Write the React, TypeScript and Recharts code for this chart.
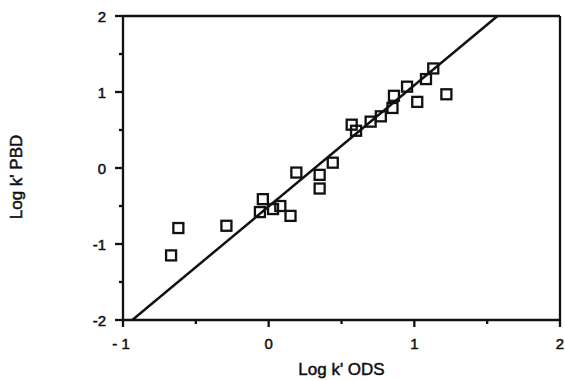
import { ScatterChart, Scatter, XAxis, YAxis, ReferenceLine } from 'recharts'

// log k' values
const odsLogK = [-0.67, -0.62, -0.29, -0.04, -0.06, 0.03, 0.08, 0.15, 0.19, 0.35, 0.35, 0.44, 0.57, 0.6, 0.7, 0.77, 0.86, 0.85, 0.95, 1.02, 1.08, 1.13, 1.22]
const pbdLogK = [-1.15, -0.79, -0.76, -0.41, -0.58, -0.54, -0.5, -0.63, -0.06, -0.27, -0.09, 0.07, 0.57, 0.49, 0.61, 0.68, 0.95, 0.79, 1.07, 0.87, 1.17, 1.31, 0.97]

// regression line end points
const fitX = [-0.936, 1.571]
const fitY = [-2, 2]

const xTicks = [-1, -0.5, 0, 0.5, 1, 1.5, 2]
const yTicks = [-2, -1.5, -1, -0.5, 0, 0.5, 1, 1.5, 2]

const FONT = '"Liberation Sans", Arial, sans-serif'
const INK = '#111'

const points = odsLogK.map((x, i) => ({ x, y: pbdLogK[i] }))
const fitLine = fitX.map((x, i) => ({ x, y: fitY[i] }))

function Square({ cx, cy }: { cx?: number; cy?: number }) {
  if (cx == null || cy == null) return null
  return <rect x={cx - 5} y={cy - 5} width={10} height={10} fill="none" stroke={INK} strokeWidth={2.3} />
}

function XTick({ x, y, payload }: any) {
  const v = payload.value as number
  const major = Number.isInteger(v)
  return (
    <g>
      <line x1={x} x2={x} y1={y} y2={y + (major ? 7 : 4)} stroke={INK} strokeWidth={2.3} />
      {major && (
        <text x={v < 0 ? x - 2 : x} y={y + 29} textAnchor="middle" fontFamily={FONT} fontSize={15} fill={INK} stroke={INK} strokeWidth={0.5}>
          {v < 0 ? '- ' + Math.abs(v) : v}
        </text>
      )}
    </g>
  )
}

function YTick({ x, y, payload }: any) {
  const v = payload.value as number
  const major = Number.isInteger(v)
  return (
    <g>
      <line x1={x} x2={x - (major ? 8 : 4)} y1={y} y2={y} stroke={INK} strokeWidth={2.3} />
      {major && (
        <text x={x - 17} y={y + 6} textAnchor="end" fontFamily={FONT} fontSize={15} fill={INK} stroke={INK} strokeWidth={0.5}>
          {v}
        </text>
      )}
    </g>
  )
}

export default function App() {
  return (
    <div style={{ position: 'absolute', left: 0, top: 0, background: '#fff' }}>
      <ScatterChart width={565} height={381} margin={{ top: 16, right: 5, bottom: 0, left: 0 }}>
        <XAxis
          dataKey="x"
          type="number"
          domain={[-1, 2]}
          ticks={xTicks}
          allowDataOverflow
          height={61}
          tickSize={0}
          tickMargin={0}
          tickLine={false}
          tick={<XTick />}
          axisLine={{ stroke: INK, strokeWidth: 2.3 }}
          label={{
            content: ({ viewBox }: any) => (
              <text x={viewBox.x + viewBox.width / 2} y={viewBox.y + 55} textAnchor="middle" fontFamily={FONT} fontSize={17} fill={INK} stroke={INK} strokeWidth={0.5}>
                Log k' ODS
              </text>
            ),
          }}
        />
        <YAxis
          dataKey="y"
          type="number"
          domain={[-2, 2]}
          ticks={yTicks}
          allowDataOverflow
          width={123}
          tickSize={0}
          tickMargin={0}
          tickLine={false}
          tick={<YTick />}
          axisLine={{ stroke: INK, strokeWidth: 2.3 }}
          label={{
            content: ({ viewBox }: any) => {
              const cy = viewBox.y + viewBox.height / 2 + 9
              return (
                <text x={22} y={cy} transform={`rotate(-90 22 ${cy})`} textAnchor="middle" fontFamily={FONT} fontSize={17} fill={INK} stroke={INK} strokeWidth={0.5}>
                  Log k' PBD
                </text>
              )
            },
          }}
        />
        <ReferenceLine y={2} stroke={INK} strokeWidth={2.3} />
        <ReferenceLine x={2} stroke={INK} strokeWidth={2.3} />
        <Scatter data={fitLine} line={{ stroke: INK, strokeWidth: 2.5 }} shape={() => null} isAnimationActive={false} />
        <Scatter data={points} shape={<Square />} isAnimationActive={false} />
      </ScatterChart>
    </div>
  )
}
